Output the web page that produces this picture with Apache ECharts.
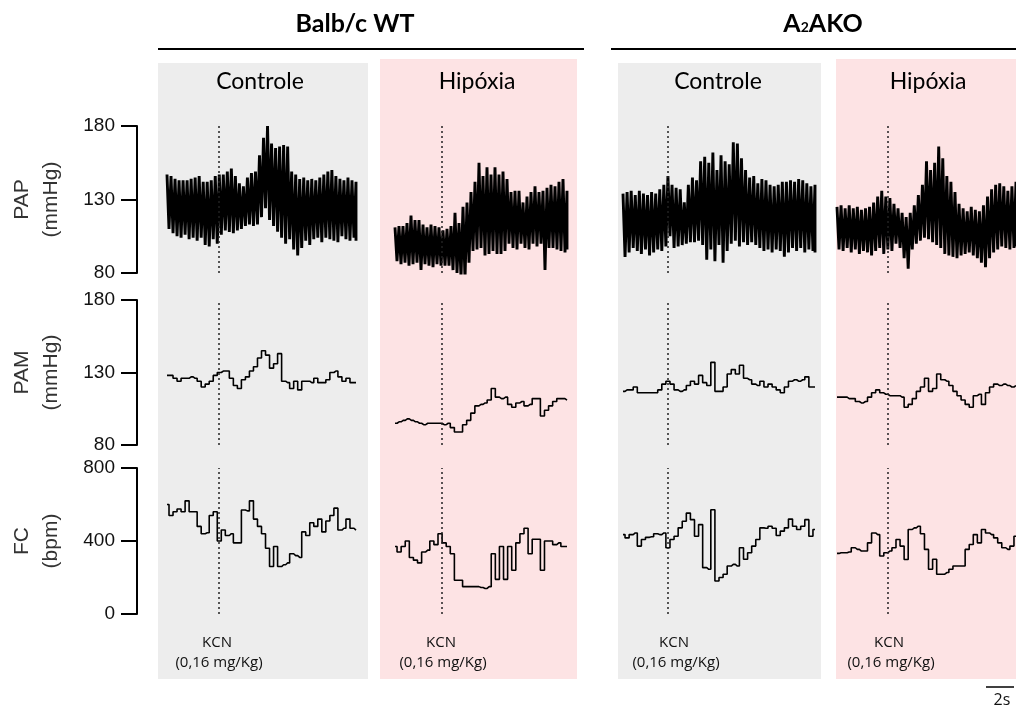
<!DOCTYPE html>
<html>
<head>
<meta charset="utf-8">
<script src="https://cdn.jsdelivr.net/npm/echarts@6/dist/echarts.min.js"></script>
<style>
  html, body { margin: 0; background: #fff; }
  #main { width: 1016px; height: 709px; }
</style>
</head>
<body>
<div id="main"></div>
<script>
// ---- labels ----
const groups = ['Balb/c WT', 'A{sub|2}AKO'];
const conditions = ['Controle', 'Hipóxia', 'Controle', 'Hipóxia'];
const rowNames = ['PAP\n(mmHg)', 'PAM\n(mmHg)', 'FC\n(bpm)'];
const pressTicks = [80, 130, 180];
const fcTicks = [0, 400, 800];
const kcnLabel = ['KCN', '(0,16 mg/Kg)'];
// KCN injection, as fraction of each recording
const kcnAt = [0.275, 0.273, 0.234, 0.285];

// ---- PAP (pulsatile) upper / lower envelope per panel, mmHg ----
const papHi1 = [147,146,144,143,143,143,144,145,146,142,142,143,146,147,147,149,151,146,141,139,145,148,149,160,172,180,168,165,166,167,166,149,147,144,145,143,144,143,145,147,149,150,146,144,143,145,143,142];
const papLo1 = [110,107,105,104,106,103,104,102,104,99,98,103,100,106,109,108,107,109,110,112,113,112,113,118,124,116,112,108,104,100,103,96,92,97,102,99,103,104,101,104,103,102,101,105,103,102,104,102];
const papHi2 = [111,112,112,114,119,116,116,113,111,113,112,111,109,110,112,121,114,125,128,135,142,155,146,152,147,152,147,149,144,135,136,136,128,132,135,139,135,136,138,140,139,142,144,136];
const papLo2 = [88,86,87,85,86,87,82,86,85,84,86,85,85,85,82,80,77,76,87,95,96,97,92,93,95,93,93,95,100,97,96,100,97,96,100,98,100,82,97,97,96,95,94,96];
const papHi3 = [134,135,136,133,136,134,133,135,134,137,140,146,140,138,137,128,140,145,143,156,159,155,162,150,160,156,154,169,168,158,150,145,146,141,144,143,140,139,140,142,142,143,142,144,143,141,139,140];
const papLo3 = [91,94,97,95,93,96,92,94,96,95,98,105,97,98,99,100,101,101,102,99,89,96,88,99,87,95,100,102,98,101,99,101,99,97,95,96,94,96,95,91,94,97,95,97,94,96,95,94];
const papHi4 = [125,126,124,126,124,125,123,124,125,128,132,136,132,131,127,124,121,118,121,126,133,140,156,150,155,166,158,146,142,135,127,124,122,125,123,122,126,132,137,140,141,139,136,139,142];
const papLo4 = [96,95,97,94,96,93,95,94,92,95,97,93,96,95,100,97,90,83,96,100,102,104,103,101,99,97,93,92,91,90,92,93,94,92,90,87,84,90,94,96,98,97,96,97,98];

// ---- PAM, mmHg ----
const pam1 = [128,128,126,124,126,126,127,126,124,120,122,124,128,130,131,131,126,121,119,125,127,131,134,140,145,142,133,136,143,124,123,119,124,118,124,124,123,126,123,123,125,130,131,127,124,126,123,123];
const pam2 = [95,96,97,98,97,96,95,94,95,95,95,95,94,95,92,89,89,94,97,102,107,108,109,111,119,113,112,113,108,106,109,110,107,108,112,112,100,104,107,110,112,112,111];
const pam3 = [117,118,118,120,116,116,116,116,116,118,122,124,122,118,117,118,121,124,122,128,123,121,137,117,117,120,129,132,129,135,126,125,122,121,124,120,122,120,118,116,120,124,125,124,125,127,120,120];
const pam4 = [113,113,113,112,112,110,109,110,113,116,118,116,115,114,114,114,113,106,108,112,117,120,126,117,119,129,125,124,121,117,114,111,108,106,114,115,108,116,120,122,121,122,121,120,121];

// ---- FC, bpm ----
const fc1 = [600,540,560,575,560,620,560,560,480,440,445,540,560,400,460,430,440,390,390,570,565,620,520,480,440,360,260,370,260,270,280,330,320,310,450,430,500,480,520,450,510,540,580,460,470,520,470,460];
const fc2 = [370,340,370,400,310,295,280,340,350,400,380,440,390,370,330,185,185,150,150,150,150,145,140,150,330,190,370,190,370,240,390,440,470,330,410,410,240,400,400,380,390,370,370];
const fc3 = [435,417,435,444,372,408,420,423,440,435,444,363,408,426,472,508,553,517,426,490,254,245,571,181,200,218,263,272,263,363,300,336,372,408,472,470,481,470,430,454,472,520,481,463,481,517,426,463];
const fc4 = [332,336,336,340,363,354,345,345,390,444,435,318,336,345,363,408,372,299,463,472,481,440,354,245,300,218,218,227,245,263,263,263,354,381,435,390,463,444,435,417,390,363,354,372,426];

// ---- layout (pixels) ----
const colX = [[167, 356], [395, 567], [623, 815], [837, 1016]];
const rowY = [[126, 273], [300, 445], [468, 614]];
const axisX = 137;
const panels = [
  { x: 158, y: 63, w: 210, h: 616, fill: '#ededed' },
  { x: 380, y: 59, w: 197, h: 620, fill: '#fde3e4' },
  { x: 618, y: 63, w: 203, h: 616, fill: '#ededed' },
  { x: 836, y: 59, w: 180, h: 620, fill: '#fde3e4' }
];
const condX = [260, 477, 718, 928];
const kcnTextX = [219, 443, 676, 891];

const papHi = [papHi1, papHi2, papHi3, papHi4];
const papLo = [papLo1, papLo2, papLo3, papLo4];
const pam = [pam1, pam2, pam3, pam4];
const fc = [fc1, fc2, fc3, fc4];

function zigzag(hi, lo) {
  const n = hi.length, pts = [];
  for (let i = 0; i < n; i++) {
    pts.push([i, hi[i]]);
    pts.push([Math.min(i + 0.5, n - 1), lo[i]]);
  }
  return pts;
}

const grids = [], xAxes = [], yAxes = [], series = [];
for (let r = 0; r < 3; r++) {
  for (let c = 0; c < 4; c++) {
    const g = r * 4 + c;
    let data, n;
    if (r === 0) { data = zigzag(papHi[c], papLo[c]); n = papHi[c].length; }
    else if (r === 1) { data = pam[c].map((v, i) => [i, v]); n = pam[c].length; }
    else { data = fc[c].map((v, i) => [i, v]); n = fc[c].length; }
    const ticks = r === 2 ? fcTicks : pressTicks;

    grids.push({
      left: colX[c][0], width: colX[c][1] - colX[c][0],
      top: rowY[r][0], height: rowY[r][1] - rowY[r][0]
    });
    xAxes.push({ gridIndex: g, type: 'value', min: 0, max: n - 1, show: false });
    yAxes.push({ gridIndex: g, type: 'value', min: ticks[0], max: ticks[2], show: false });
    series.push({
      type: 'line', xAxisIndex: g, yAxisIndex: g, data: data,
      symbol: 'none', step: r === 0 ? false : 'middle',
      lineStyle: { color: '#000', width: r === 0 ? 2.9 : 1.6 },
      animation: false, silent: true, z: 3,
      markLine: {
        silent: true, symbol: ['none', 'none'], label: { show: false },
        lineStyle: { color: '#222', type: [2, 3], width: 1.5 },
        data: [{ xAxis: kcnAt[c] * (n - 1) }]
      }
    });
  }
}
// the three scale axes, standing left of the first column
for (let r = 0; r < 3; r++) {
  const g = grids.length;
  const ticks = r === 2 ? fcTicks : pressTicks;
  grids.push({ left: axisX, width: 1, top: rowY[r][0], height: rowY[r][1] - rowY[r][0] });
  xAxes.push({ gridIndex: g, type: 'value', min: 0, max: 1, show: false });
  yAxes.push({
    gridIndex: g, type: 'value', position: 'left',
    min: ticks[0], max: ticks[2], interval: ticks[1] - ticks[0],
    axisLine: { show: true, lineStyle: { color: '#000', width: 2 } },
    axisTick: { show: true, length: 16, lineStyle: { color: '#000', width: 2 } },
    axisLabel: { fontSize: 19, color: '#111', fontFamily: 'Liberation Sans', margin: 22 },
    splitLine: { show: false }
  });
}

const graphics = [];
panels.forEach(p => graphics.push({
  type: 'rect', z: -10, silent: true,
  shape: { x: p.x, y: p.y, width: p.w, height: p.h }, style: { fill: p.fill }
}));
// group titles and rules
[[158, 584, 355], [611, 1016, 823]].forEach((s, i) => {
  graphics.push({ type: 'line', silent: true, shape: { x1: s[0], y1: 49, x2: s[1], y2: 49 },
    style: { stroke: '#000', lineWidth: 2 } });
  graphics.push({ type: 'text', silent: true, x: s[2], y: 24, style: {
    text: groups[i], align: 'center', verticalAlign: 'middle',
    textAlign: 'center', textVerticalAlign: 'middle',
    fontSize: 25, fontWeight: 'bold', fontFamily: 'Lato', fill: '#000',
    rich: { sub: { fontSize: 14, fontWeight: 'bold', fontFamily: 'Lato', padding: [6, 0, 0, 0] } }
  } });
});
conditions.forEach((t, c) => graphics.push({ type: 'text', silent: true, x: condX[c], y: 82, style: {
  text: t, align: 'center', verticalAlign: 'middle', textAlign: 'center', textVerticalAlign: 'middle',
  fontSize: 23, fontFamily: 'Lato', fill: '#000' } }));
rowNames.forEach((t, r) => graphics.push({ type: 'text', silent: true,
  x: 37, y: (rowY[r][0] + rowY[r][1]) / 2, rotation: Math.PI / 2, style: {
  text: t, align: 'center', verticalAlign: 'middle', textAlign: 'center', textVerticalAlign: 'middle',
  fontSize: 21, lineHeight: 29, fontFamily: 'Liberation Sans', fill: '#333' } }));
kcnTextX.forEach(x => {
  graphics.push({ type: 'text', silent: true, x: x - 2, y: 643, style: {
    text: kcnLabel[0], align: 'center', verticalAlign: 'middle', textAlign: 'center', textVerticalAlign: 'middle',
    fontSize: 15, fontFamily: 'Open Sans', fill: '#111' } });
  graphics.push({ type: 'text', silent: true, x: x, y: 663, style: {
    text: kcnLabel[1], align: 'center', verticalAlign: 'middle', textAlign: 'center', textVerticalAlign: 'middle',
    fontSize: 15, fontFamily: 'Open Sans', fill: '#111' } });
});
// 2 s scale bar
graphics.push({ type: 'line', silent: true, shape: { x1: 986, y1: 687, x2: 1014, y2: 687 },
  style: { stroke: '#000', lineWidth: 1.5 } });
graphics.push({ type: 'text', silent: true, x: 1002, y: 700, style: {
  text: '2s', align: 'center', verticalAlign: 'middle', textAlign: 'center', textVerticalAlign: 'middle',
  fontSize: 16, fontFamily: 'Open Sans', fill: '#111' } });

const chart = echarts.init(document.getElementById('main'), null, { renderer: 'canvas' });
chart.setOption({
  animation: false,
  backgroundColor: '#fff',
  grid: grids,
  xAxis: xAxes,
  yAxis: yAxes,
  series: series,
  graphic: { elements: graphics }
});
</script>
</body>
</html>
